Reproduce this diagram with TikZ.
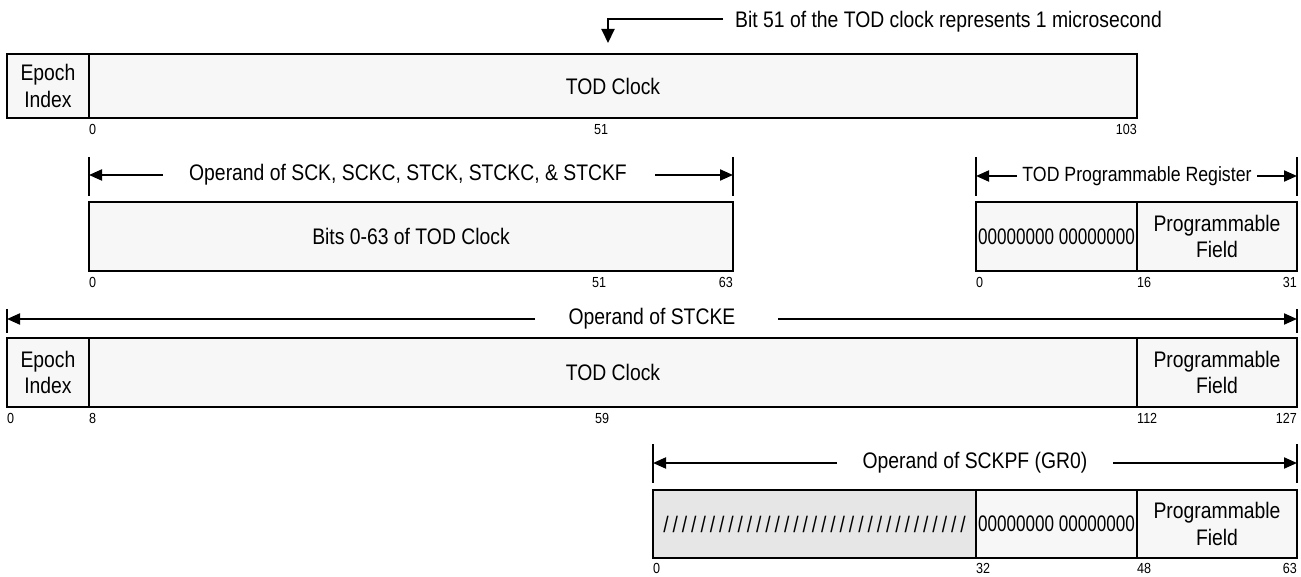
\documentclass[tikz,border=0pt]{standalone}
\usepackage{fontspec}
\setmainfont{Liberation Sans}[FakeStretch=0.86]
\newfontfamily\zerofont{Liberation Sans}[FakeStretch=0.76]
\usetikzlibrary{arrows.meta}
\definecolor{boxfill}{HTML}{F7F7F7}
\definecolor{hatchfill}{HTML}{E6E6E6}
\newcommand\bigtext{\fontsize{22.5}{26.5}\selectfont}
\newcommand\midtext{\fontsize{20.6}{24}\selectfont}
\newcommand\smalltext{\fontsize{14.6}{16}\selectfont}
\newcommand\slashrow{/\kern3.9pt/\kern3.9pt/\kern3.9pt/\kern3.9pt/\kern3.9pt/\kern3.9pt/\kern3.9pt/\kern3.9pt/\kern3.9pt/\kern3.9pt/\kern3.9pt/\kern3.9pt/\kern3.9pt/\kern3.9pt/\kern3.9pt/\kern3.9pt/\kern3.9pt/\kern3.9pt/\kern3.9pt/\kern3.9pt/\kern3.9pt/\kern3.9pt/\kern3.9pt/\kern3.9pt/\kern3.9pt/\kern3.9pt/\kern3.9pt/\kern3.9pt/\kern3.9pt/\kern3.9pt/\kern3.9pt/\kern3.9pt/}
\begin{document}
\begin{tikzpicture}[x=1pt,y=-1pt,
  field/.style={draw, line width=2.6pt, fill=boxfill, inner sep=0pt, outer sep=0pt,
    align=center, anchor=north west, font=\bigtext},
  bitlbl/.style={inner sep=0pt, font=\smalltext},
  dimtext/.style={inner sep=0pt, font=\bigtext},
  arr/.style={line width=2pt, -{Triangle[length=13pt,width=11pt]}},
  tickline/.style={line width=2.4pt}]
\useasboundingbox (0,0) rectangle (1301,577);

% ---------- Row 1 ----------
\node[field, minimum width=82pt, minimum height=64pt] (ep1) at (7,54) {Epoch\\Index};
\node[field, minimum width=1048pt, minimum height=64pt] (tod1) at (89,54) {TOD Clock};
\node[bitlbl, anchor=north west] (r1a) at (89,124) {0};
\node[bitlbl, anchor=north] (r1b) at (601,124) {51};
\node[bitlbl, anchor=north east] (r1c) at (1137,124) {103};
\node[dimtext, anchor=west] (note) at (735,22) {Bit 51 of the TOD clock represents 1 microsecond};
\coordinate (noteL) at (723,19);
\coordinate (bit51) at (608,43);
\draw[arr, -{Triangle[length=14pt,width=13pt]}] (noteL) -| (bit51);

% ---------- Row 2 ----------
\node[field, minimum width=644pt, minimum height=69pt] (bits2) at (89,202) {Bits 0-63 of TOD Clock};
\node[field, minimum width=161pt, minimum height=69pt, font=\bigtext\zerofont] (zero2) at (976,202) {00000000 00000000};
\node[field, minimum width=160pt, minimum height=69pt] (prog2) at (1137,202) {Programmable\\Field};
\node[bitlbl, anchor=north west] (r2a) at (89,277) {0};
\node[bitlbl, anchor=north] (r2b) at (599,277) {51};
\node[bitlbl, anchor=north east] (r2c) at (733,277) {63};
\node[bitlbl, anchor=north west] (r2d) at (976,277) {0};
\node[bitlbl, anchor=north west] (r2e) at (1137,277) {16};
\node[bitlbl, anchor=north east] (r2f) at (1297,277) {31};

\node[dimtext] (op2) at (408,175) {Operand of SCK, SCKC, STCK, STCKC, \& STCKF};
\coordinate (op2L) at (89,175);  \coordinate (op2La) at (163,175);
\coordinate (op2R) at (733,175); \coordinate (op2Ra) at (655,175);
\draw[arr] (op2La) -- (op2L);
\draw[arr] (op2Ra) -- (op2R);
\draw[tickline] (89,157) -- (89,196);
\draw[tickline] (733,157) -- (733,196);

\node[dimtext, font=\midtext] (tpr) at (1137,176) {TOD Programmable Register};
\coordinate (tprL) at (976,176);  \coordinate (tprLa) at (1017,176);
\coordinate (tprR) at (1297,176); \coordinate (tprRa) at (1257,176);
\draw[arr] (tprLa) -- (tprL);
\draw[arr] (tprRa) -- (tprR);
\draw[tickline] (976,157) -- (976,196);
\draw[tickline] (1297,157) -- (1297,196);

% ---------- Row 3 ----------
\node[field, minimum width=82pt, minimum height=69pt] (ep3) at (7,338) {Epoch\\Index};
\node[field, minimum width=1048pt, minimum height=69pt] (tod3) at (89,338) {TOD Clock};
\node[field, minimum width=160pt, minimum height=69pt] (prog3) at (1137,338) {Programmable\\Field};
\node[bitlbl, anchor=north west] (r3a) at (7,413) {0};
\node[bitlbl, anchor=north west] (r3b) at (89,413) {8};
\node[bitlbl, anchor=north] (r3c) at (602,413) {59};
\node[bitlbl, anchor=north west] (r3d) at (1137,413) {112};
\node[bitlbl, anchor=north east] (r3e) at (1297,413) {127};

\node[dimtext] (op3) at (652,319) {Operand of STCKE};
\coordinate (op3L) at (7,319);    \coordinate (op3La) at (535,319);
\coordinate (op3R) at (1297,319); \coordinate (op3Ra) at (778,319);
\draw[arr] (op3La) -- (op3L);
\draw[arr] (op3Ra) -- (op3R);
\draw[tickline] (7,309) -- (7,333);
\draw[tickline] (1297,309) -- (1297,333);

% ---------- Row 4 ----------
\node[field, fill=hatchfill, minimum width=323pt, minimum height=68pt] (hatch4) at (653,490) {\slashrow};
\node[field, minimum width=161pt, minimum height=68pt, font=\bigtext\zerofont] (zero4) at (976,490) {00000000 00000000};
\node[field, minimum width=160pt, minimum height=68pt] (prog4) at (1137,490) {Programmable\\Field};
\node[bitlbl, anchor=north west] (r4a) at (653,563) {0};
\node[bitlbl, anchor=north west] (r4b) at (976,563) {32};
\node[bitlbl, anchor=north west] (r4c) at (1137,563) {48};
\node[bitlbl, anchor=north east] (r4d) at (1297,563) {63};

\node[dimtext] (op4) at (975,463) {Operand of SCKPF (GR0)};
\coordinate (op4L) at (653,463);  \coordinate (op4La) at (837,463);
\coordinate (op4R) at (1297,463); \coordinate (op4Ra) at (1113,463);
\draw[arr] (op4La) -- (op4L);
\draw[arr] (op4Ra) -- (op4R);
\draw[tickline] (653,444) -- (653,483);
\draw[tickline] (1297,444) -- (1297,483);
\end{tikzpicture}
\end{document}
